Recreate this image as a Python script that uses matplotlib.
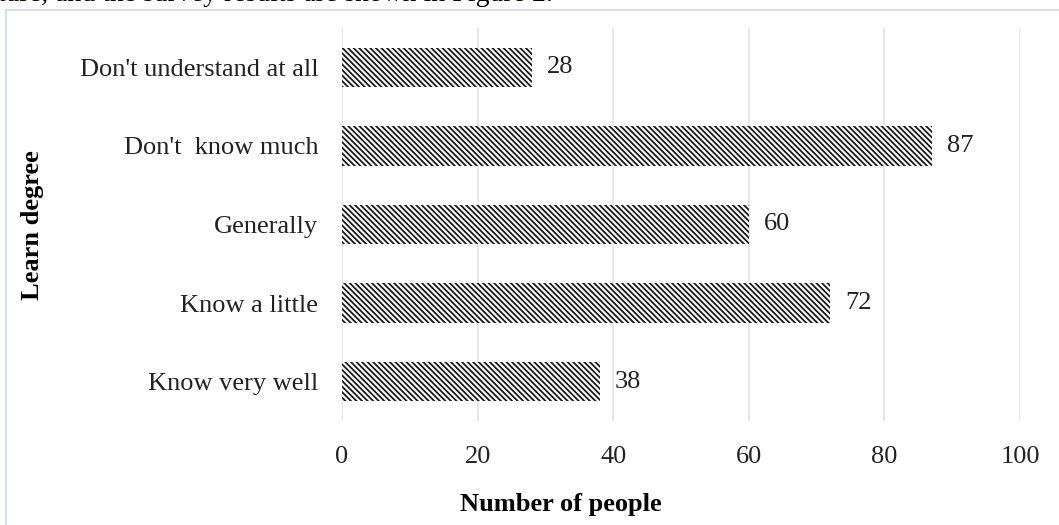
import matplotlib
matplotlib.use("Agg")
import matplotlib.pyplot as plt
from matplotlib.patches import Rectangle

categories = ["Know very well", "Know a little", "Generally", "Don't  know much", "Don't understand at all"]
values = [38, 72, 60, 87, 28]
xticks = [0, 20, 40, 60, 80, 100]

plt.rcParams['font.family'] = ['Liberation Serif', 'DejaVu Serif']
plt.rcParams['hatch.linewidth'] = 1.3
plt.rcParams['hatch.color'] = '#1a1a1a'

FS = 19
fig = plt.figure(figsize=(10.59, 5.25), dpi=100)
ax = fig.add_axes([342/1059, 1-421/525, (1020-342)/1059, (421-28)/525])

grid_c = '#dfe3e8'
y = list(range(len(categories)))
ax.barh(y, values, height=0.5, color='white', edgecolor='#1a1a1a', hatch='\\\\\\\\\\\\', linewidth=0, zorder=3)
for yi, v in zip(y, values):
    ax.annotate(str(v), (v, yi), xytext=(15, 0), textcoords='offset pixels',
                va='center', ha='left', fontsize=FS, color='#222222')

ax.set_xlim(0, 100)
ax.set_ylim(-0.5, len(categories) - 0.5)
ax.set_xticks(xticks)
ax.set_yticks(y)
ax.set_yticklabels(categories)
ax.grid(axis='x', color=grid_c, linewidth=1.2, zorder=0)
ax.set_axisbelow(True)
for s in ax.spines.values():
    s.set_visible(False)
ax.tick_params(axis='both', length=0, labelsize=FS, colors='#222222')
ax.tick_params(axis='x', pad=18)
ax.tick_params(axis='y', pad=17)
fig.text(561/1059, 1-504/525, 'Number of people', fontsize=FS, fontweight='bold', ha='center', va='center')
fig.text(33/1059, 1-225/525, 'Learn degree', rotation=90, fontsize=FS, fontweight='bold', ha='center', va='center')

# surrounding frame
fig.patches.append(Rectangle((6/1059, -0.02), 1.1, 1-10/525+0.02, transform=fig.transFigure,
                             fill=False, edgecolor='#d8dee6', linewidth=1.5))
# cut-off document text at top
fig.text(-2/1059, 1-1/525, 'ture, and the survey results are shown in Figure 2.', fontsize=20,
         va='baseline', ha='left')

fig.savefig('out.png', dpi=100)
